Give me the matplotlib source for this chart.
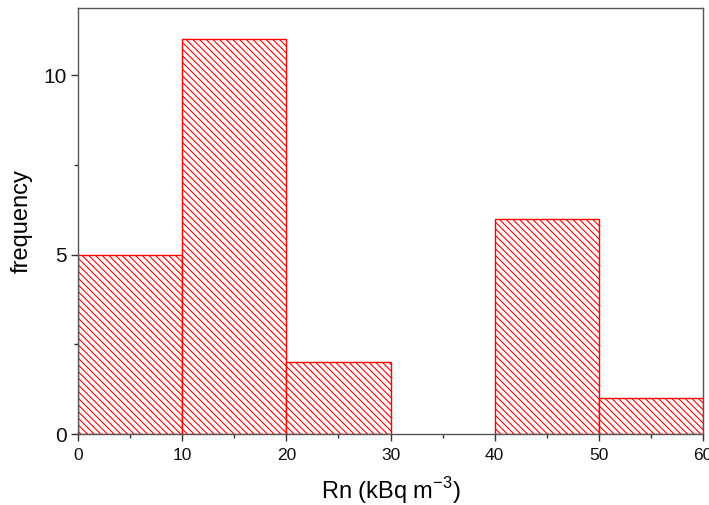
import matplotlib
matplotlib.use("Agg")
import matplotlib.pyplot as plt

plt.rcParams["font.family"] = ["Liberation Sans", "DejaVu Sans"]
plt.rcParams["hatch.linewidth"] = 0.8
plt.rcParams["hatch.color"] = "#ff6a6a"

bin_edges = [0, 10, 20, 30, 40, 50, 60]
counts = [5, 11, 2, 0, 6, 1]
x_ticks = [0, 10, 20, 30, 40, 50, 60]
y_ticks = [0, 5, 10]

fig = plt.figure(figsize=(7.09, 5.05), dpi=100)
ax = fig.add_axes([78 / 709, 1 - 434 / 505, (703 - 78) / 709, (434 - 8) / 505])

for left, right, c in zip(bin_edges[:-1], bin_edges[1:], counts):
    if c > 0:
        ax.bar(left, c, width=right - left, align="edge", facecolor="white",
               edgecolor="red", linewidth=1.0, hatch="\\" * 5)

ax.set_xlim(0, 60)
ax.set_ylim(0, 11.87)
ax.set_xticks(x_ticks)
ax.set_xticks([5, 15, 25, 35, 45, 55], minor=True)
ax.set_yticks(y_ticks)
ax.set_yticks([2.5, 7.5], minor=True)
ax.tick_params(axis="x", which="major", direction="out", length=5, width=1,
               labelsize=12.5, colors="#333333", pad=5)
ax.tick_params(axis="y", which="major", direction="out", length=5, width=1,
               labelsize=15, colors="#333333", pad=3)
ax.tick_params(which="minor", direction="out", length=3, width=1, colors="#333333")
for lab in ax.get_xticklabels() + ax.get_yticklabels():
    lab.set_color("#111111")
for s in ax.spines.values():
    s.set_color("#555555")
    s.set_linewidth(1.0)

ax.set_xlabel("Rn (kBq m$^{\\mathregular{-3}}$)", fontsize=17, labelpad=9)
ax.set_ylabel("frequency", fontsize=17, labelpad=8)

fig.savefig("out.png", dpi=100)
